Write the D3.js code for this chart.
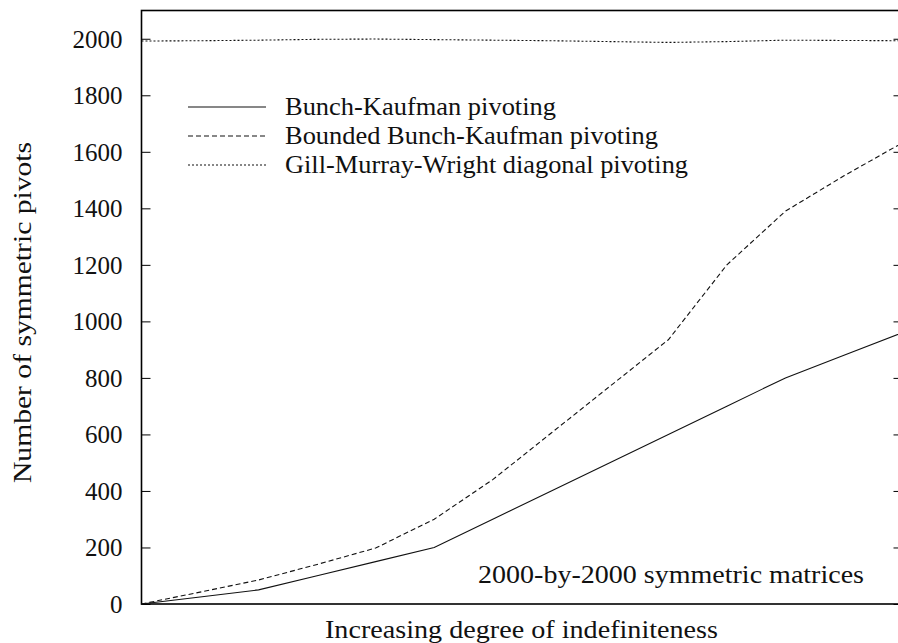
<!DOCTYPE html>
<html>
<head>
<meta charset="utf-8">
<script src="https://cdn.jsdelivr.net/npm/d3@7"></script>
<style>
  html, body { margin: 0; padding: 0; background: #fff; }
  svg { display: block; }
  text { font-family: "Liberation Serif", "DejaVu Serif", serif; fill: #111; }
</style>
</head>
<body>
<svg id="chart" width="898" height="643"></svg>
<script>
// Step index along the "degree of indefiniteness" axis
const steps = [0, 1, 2, 3, 4, 5, 6, 7, 8, 9, 10, 11, 12, 13];

// Number of symmetric (2x2) pivots chosen by each strategy
const bunchKaufman        = [0, 25, 50, 100, 150, 200, 300, 400, 500, 600, 700, 800, 880, 960];
const boundedBunchKaufman = [0, 42, 85, 140, 198, 300, 440, 605, 770, 935, 1200, 1390, 1515, 1632];
const gillMurrayWright    = [1992, 1993, 1995, 1998, 1999, 1997, 1995, 1993, 1990, 1987, 1990, 1995, 1994, 1993];

const yTicks = [0, 200, 400, 600, 800, 1000, 1200, 1400, 1600, 1800, 2000];

const seriesNames = [
  "Bunch-Kaufman pivoting",
  "Bounded Bunch-Kaufman pivoting",
  "Gill-Murray-Wright diagonal pivoting"
];
const seriesValues = [bunchKaufman, boundedBunchKaufman, gillMurrayWright];
const seriesDash = [null, "5,3", "2,2"];
// Rendered widths of the legend entries (the serif face used is a bit narrower than Computer Modern)
const legendWidths = [271, 373, 403];

const svg = d3.select("#chart");
const margin = { left: 141.5, right: 902.5, top: 10.5, bottom: 604 };

const x = d3.scaleLinear().domain([0, 13]).range([margin.left, margin.right]);
const y = d3.scaleLinear().domain([0, 2100]).range([margin.bottom, margin.top]);

// Left axis with inward ticks and labels
const yAxisLeft = d3.axisLeft(y).tickValues(yTicks).tickSize(-9).tickPadding(19)
  .tickFormat(d3.format("d"));
const gl = svg.append("g").attr("transform", `translate(${margin.left},0)`).call(yAxisLeft);
gl.select(".domain").remove();
gl.selectAll(".tick line").attr("stroke", "#000").attr("stroke-width", 1);
gl.selectAll(".tick text").style("font-size", "25px").style("font-family", "Liberation Serif")
  .attr("fill", "#111").attr("dy", "0.34em");

// Right axis: inward ticks only
const yAxisRight = d3.axisRight(y).tickValues(yTicks).tickSize(-9).tickFormat("");
const gr = svg.append("g").attr("transform", `translate(${margin.right},0)`).call(yAxisRight);
gr.select(".domain").remove();
gr.selectAll(".tick line").attr("stroke", "#000").attr("stroke-width", 1);

// Plot frame
svg.append("rect")
  .attr("x", margin.left).attr("y", margin.top)
  .attr("width", margin.right - margin.left).attr("height", margin.bottom - margin.top)
  .attr("fill", "none").attr("stroke", "#000").attr("stroke-width", 1.6);

// Series lines
const line = d3.line().x((d, i) => x(steps[i])).y(d => y(d));
seriesValues.forEach((vals, k) => {
  svg.append("path")
    .datum(vals)
    .attr("d", line)
    .attr("fill", "none")
    .attr("stroke", "#111")
    .attr("stroke-width", 1.1)
    .attr("stroke-dasharray", seriesDash[k]);
});

// Legend
const legend = svg.append("g");
seriesNames.forEach((name, k) => {
  const ly = 107 + k * 29;
  legend.append("line")
    .attr("x1", 188).attr("x2", 266).attr("y1", ly).attr("y2", ly)
    .attr("stroke", "#111").attr("stroke-width", 1.1)
    .attr("stroke-dasharray", seriesDash[k]);
  legend.append("text")
    .attr("x", 285).attr("y", ly + 8)
    .style("font-size", "25.5px")
    .attr("textLength", legendWidths[k])
    .attr("lengthAdjust", "spacingAndGlyphs")
    .text(name);
});

// Annotation inside the plot
svg.append("text")
  .attr("x", 478).attr("y", 583)
  .style("font-size", "25.5px")
  .attr("textLength", 386)
  .attr("lengthAdjust", "spacingAndGlyphs")
  .text("2000-by-2000 symmetric matrices");

// Axis titles
svg.append("text")
  .attr("x", 325).attr("y", 638)
  .style("font-size", "26px")
  .attr("textLength", 393)
  .attr("lengthAdjust", "spacingAndGlyphs")
  .text("Increasing degree of indefiniteness");

svg.append("text")
  .attr("transform", "translate(31,483) rotate(-90)")
  .style("font-size", "26px")
  .attr("textLength", 341)
  .attr("lengthAdjust", "spacingAndGlyphs")
  .text("Number of symmetric pivots");
</script>
</body>
</html>
